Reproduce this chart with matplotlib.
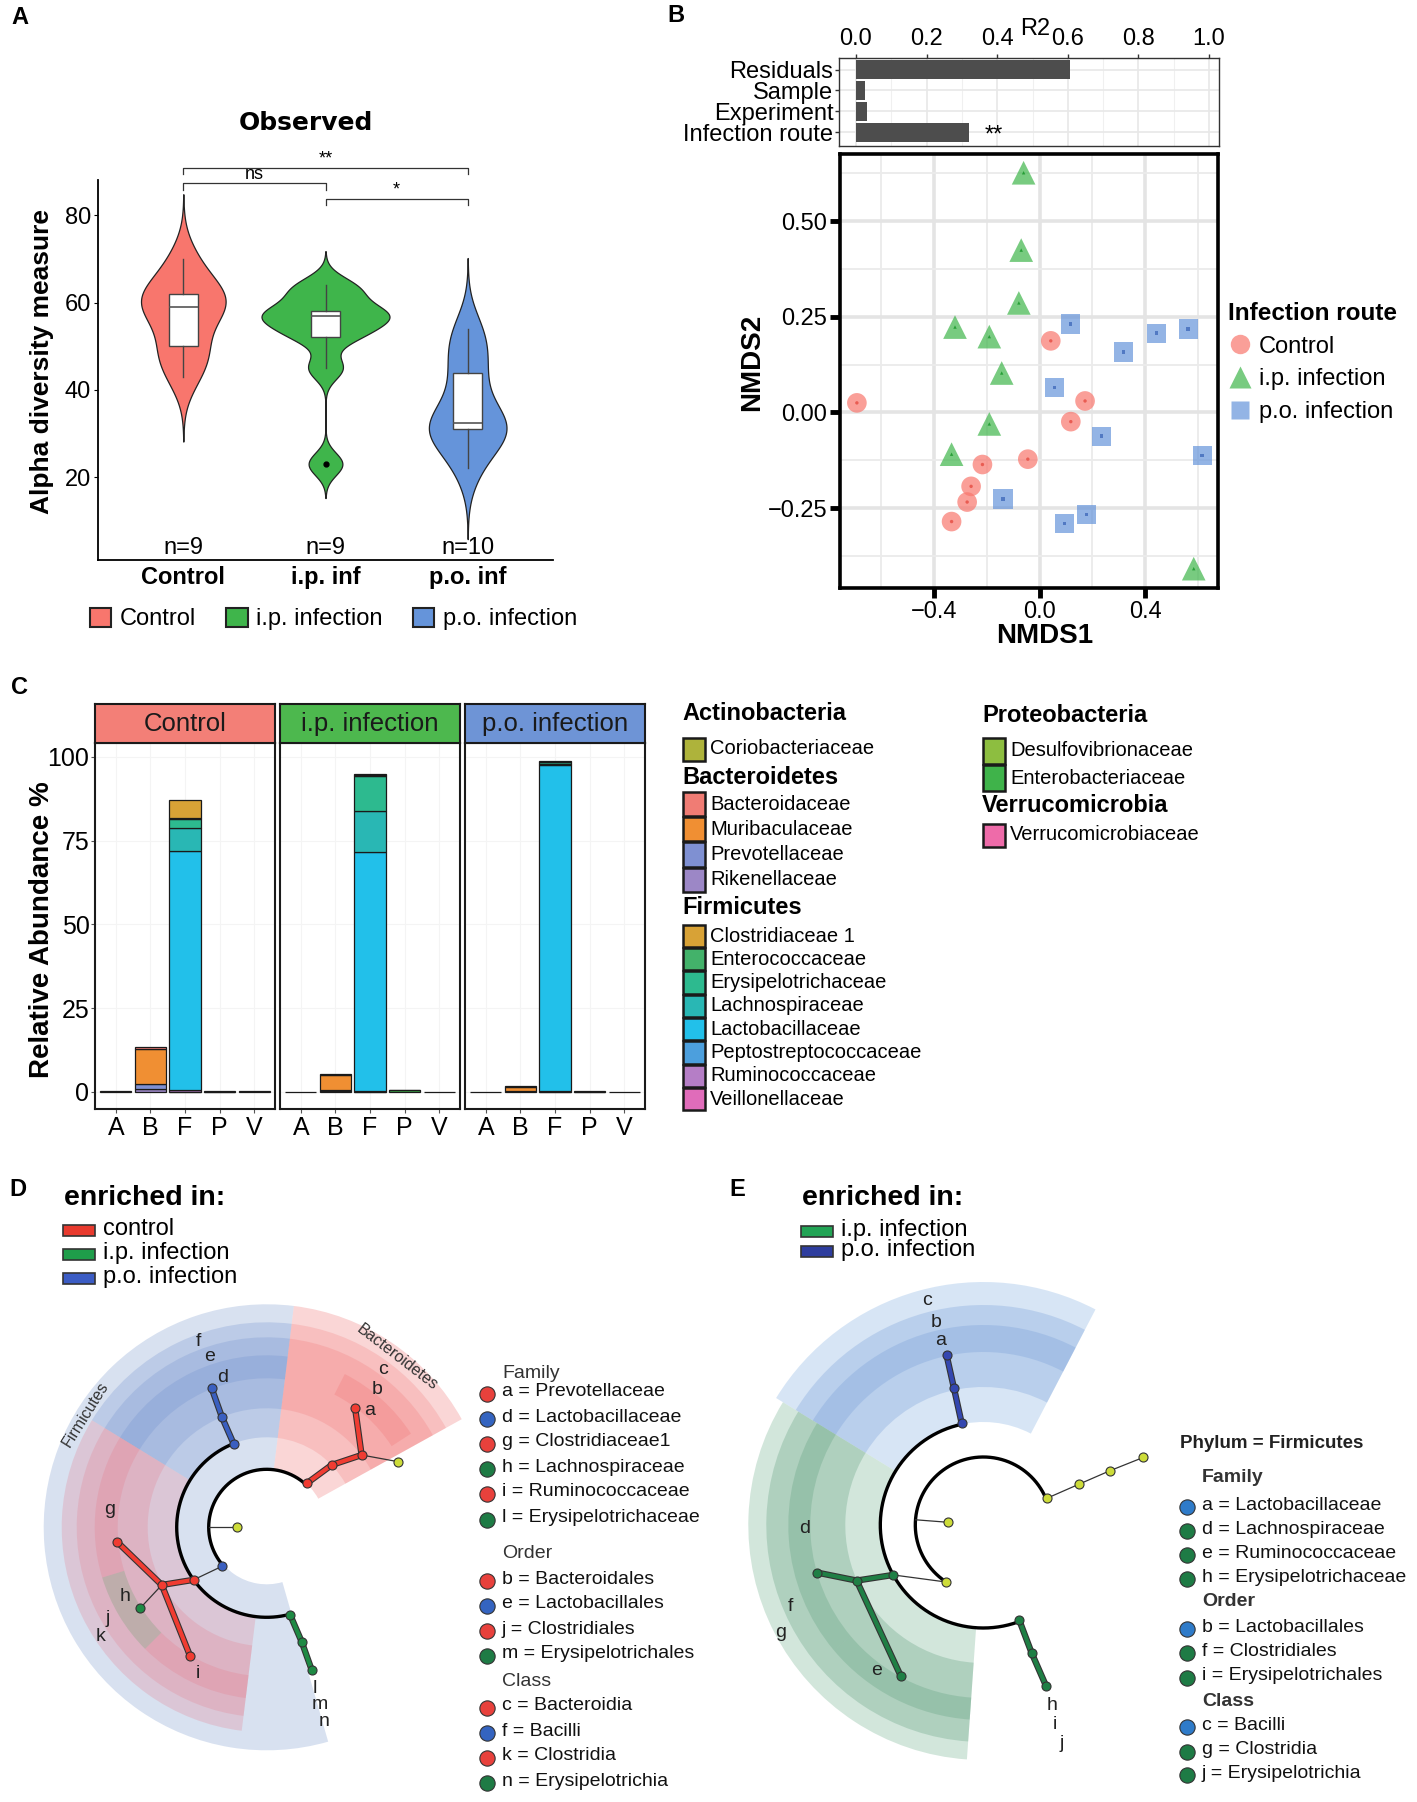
import numpy as np
import matplotlib
matplotlib.use('Agg')
import matplotlib.pyplot as plt
from matplotlib.patches import Rectangle, Wedge, Patch
from matplotlib.lines import Line2D

plt.rcParams['font.family'] = ['Liberation Sans', 'DejaVu Sans']

W, H = 1417, 1802

# ---------------- A: observed richness ----------------
groups = ['Control', 'i.p. infection', 'p.o. infection']
group_short = ['Control', 'i.p. inf', 'p.o. inf']
group_colors = ['#F8766D', '#3FB54B', '#6594DA']
obs_control = [43, 48, 50, 57, 59, 60, 62, 64, 70]
obs_ip = [23, 45, 52, 54, 57, 57, 58, 62, 64]
obs_po = [22, 28, 31, 31, 32, 33, 40, 45, 50, 54]
sig_pairs = [(1, 2), (1, 3), (2, 3)]
sig_labels = ['ns', '**', '*']
sig_heights = [87.3, 90.8, 83.7]

# ---------------- B: PERMANOVA + NMDS ----------------
r2_terms = ['Residuals', 'Sample', 'Experiment', 'Infection route']
r2_values = [0.607, 0.025, 0.03, 0.319]
r2_stars = ['', '', '', '**']
ctrl_x = [-0.693, 0.042, 0.172, 0.118, -0.045, -0.217, -0.260, -0.275, -0.334]
ctrl_y = [0.025, 0.187, 0.030, -0.024, -0.122, -0.136, -0.193, -0.234, -0.285]
ip_x = [-0.061, -0.070, -0.079, -0.321, -0.191, -0.144, -0.191, -0.334, 0.584]
ip_y = [0.626, 0.424, 0.286, 0.223, 0.198, 0.103, -0.030, -0.109, -0.408]
po_x = [0.117, 0.318, 0.442, 0.563, 0.057, 0.234, 0.616, -0.139, 0.094, 0.178]
po_y = [0.231, 0.158, 0.207, 0.218, 0.065, -0.062, -0.112, -0.226, -0.290, -0.267]

# ---------------- C: relative abundance ----------------
phyla = ['A', 'B', 'F', 'P', 'V']
phylum_names = ['Actinobacteria', 'Bacteroidetes', 'Firmicutes', 'Proteobacteria', 'Verrucomicrobia']
families = ['Coriobacteriaceae',
            'Bacteroidaceae', 'Muribaculaceae', 'Prevotellaceae', 'Rikenellaceae',
            'Clostridiaceae 1', 'Enterococcaceae', 'Erysipelotrichaceae', 'Lachnospiraceae',
            'Lactobacillaceae', 'Peptostreptococcaceae', 'Ruminococcaceae', 'Veillonellaceae',
            'Desulfovibrionaceae', 'Enterobacteriaceae',
            'Verrucomicrobiaceae']
family_phylum = ['A', 'B', 'B', 'B', 'B', 'F', 'F', 'F', 'F', 'F', 'F', 'F', 'F', 'P', 'P', 'V']
family_colors = ['#AEB33B',
                 '#F07C74', '#F08F33', '#7F90D2', '#9C87C6',
                 '#D8A236', '#43B26A', '#2DBA8F', '#29B7B4',
                 '#22C0EA', '#4C9FDD', '#B57EC6', '#E06CBA',
                 '#8DBE40', '#3FB34A',
                 '#EE6BA9']
abund_control = [0.15, 0.4, 10.5, 1.6, 0.8, 5.3, 0.3, 2.6, 7.0, 71.2, 0.1, 0.4, 0.1, 0.2, 0.1, 0.15]
abund_ip = [0.1, 0.3, 4.3, 0.3, 0.4, 0.4, 0.3, 10.3, 12.4, 71.3, 0.05, 0.15, 0.05, 0.1, 0.6, 0.1]
abund_po = [0.1, 0.2, 1.3, 0.1, 0.2, 0.2, 0.1, 0.5, 0.3, 97.4, 0.1, 0.1, 0.05, 0.05, 0.1, 0.1]
strip_colors = ['#F37F77', '#4DB84E', '#6E94D6']

# ---------------- D / E: LEfSe cladograms (radius px, angle deg) ----------------
d_sectors = [  # colour, alpha, r_in, r_out, a0, a1
    ('#7F9CCF', 0.30, 57, 223, 83, 286),
    ('#F08080', 0.32, 59, 223, 29, 83),
    ('#F06464', 0.20, 90, 205, 29, 83),
    ('#F06464', 0.20, 119, 190, 29, 83),
    ('#F06464', 0.22, 149, 172, 33, 63),
    ('#5B7FC7', 0.22, 90, 205, 83, 148.5),
    ('#5B7FC7', 0.20, 119, 190, 83, 148.5),
    ('#5B7FC7', 0.20, 149, 172, 83, 148.5),
    ('#E86A7A', 0.22, 90, 205, 148.5, 263),
    ('#E86A7A', 0.20, 119, 190, 148.5, 263),
    ('#E86A7A', 0.20, 149, 172, 148.5, 197),
    ('#6E9E6E', 0.28, 149, 172, 197, 225),
    ('#E86A7A', 0.20, 149, 172, 225, 263),
]
d_arcs = [(58, 47.7, 221), (90, 111.6, 285.5)]
d_thin = [(58, 180, 30, 180), (59.7, 221, 90, 215.7), (119.3, 37.3, 147, 26.5), (119.7, 208.8, 150.3, 212.6)]
d_branches = [
    ('#3A5FC0', 90, 111.6, 119.3, 112.1), ('#3A5FC0', 119.3, 112.1, 149.3, 111.6),
    ('#F03C32', 59.3, 47.7, 90, 43.8), ('#F03C32', 90, 43.8, 119.3, 37.3), ('#F03C32', 119.3, 37.3, 148.3, 53.4),
    ('#F03C32', 90, 215.7, 119.7, 208.8), ('#F03C32', 119.7, 208.8, 150, 185.7), ('#F03C32', 119.7, 208.8, 149.7, 239.2),
    ('#1E8A44', 90.7, 285, 119.7, 287), ('#1E8A44', 119.7, 287, 149.7, 287.5),
]
d_nodes = [
    ('#CDDC39', 30, 180), ('#CDDC39', 147, 26.5),
    ('#3A5FC0', 59.7, 221), ('#3A5FC0', 90, 111.6), ('#3A5FC0', 119.3, 112.1), ('#3A5FC0', 149.3, 111.6),
    ('#F03C32', 59.3, 47.7), ('#F03C32', 90, 43.8), ('#F03C32', 119.3, 37.3), ('#F03C32', 148.3, 53.4),
    ('#F03C32', 90, 215.7), ('#F03C32', 119.7, 208.8), ('#F03C32', 150, 185.7), ('#F03C32', 149.7, 239.2),
    ('#1E8A44', 150.3, 212.6), ('#1E8A44', 90.7, 285), ('#1E8A44', 119.7, 287), ('#1E8A44', 149.7, 287.5),
]
d_letters = [('f', 198, 110.2), ('e', 180, 108.4), ('d', 156.3, 106.3), ('c', 196.3, 53.6), ('b', 176.3, 51.4),
             ('a', 155.7, 48.5), ('g', 158.3, 173.7), ('h', 157.7, 206), ('j', 183.3, 209.7), ('k', 199.3, 213.3),
             ('i', 161.3, 244.7), ('l', 168, 286.5), ('m', 185.3, 286.7), ('n', 202.7, 286.5)]
d_clade_names = [('Firmicutes', 214, 148), ('Bacteroidetes', 214, 52.4)]

e_sectors = [
    ('#9CC0E8', 0.40, 103, 243, 62.5, 148.5),
    ('#6E98D6', 0.28, 138, 220, 62.5, 148.5),
    ('#6E98D6', 0.28, 173, 200, 62.5, 148.5),
    ('#9CC8B0', 0.45, 103, 235, 148.5, 266),
    ('#5E9F7E', 0.30, 138, 217, 148.5, 266),
    ('#5E9F7E', 0.30, 173, 195, 148.5, 220),
    ('#5E9F7E', 0.30, 173, 195, 220, 266),
]
e_arcs = [(68, 22.8, 237), (103, 102, 290.7)]
e_thin = [(68, 175.6, 35, 175.6), (68, 237, 103, 209), (68.7, 22.8, 104.3, 23.1),
          (104.3, 23.1, 137.7, 23.2), (137.7, 23.2, 173.7, 22.9)]
e_branches = [
    ('#3447B0', 104, 102, 139.7, 102.1), ('#3447B0', 139.7, 102.1, 174, 102.2),
    ('#1F7F45', 103, 209, 138.3, 203.7), ('#1F7F45', 138.3, 203.7, 172.7, 196), ('#1F7F45', 138.3, 203.7, 172, 241.3),
    ('#1F7F45', 101.7, 290.7, 136.7, 290.7), ('#1F7F45', 136.7, 290.7, 172.7, 291.3),
]
e_nodes = [
    ('#CDDC39', 35, 175.6), ('#CDDC39', 68, 237), ('#CDDC39', 68.7, 22.8), ('#CDDC39', 104.3, 23.1),
    ('#CDDC39', 137.7, 23.2), ('#CDDC39', 173.7, 22.9),
    ('#3447B0', 104, 102), ('#3447B0', 139.7, 102.1), ('#3447B0', 174, 102.2),
    ('#1F7F45', 103, 209), ('#1F7F45', 138.3, 203.7), ('#1F7F45', 172.7, 196), ('#1F7F45', 172, 241.3),
    ('#1F7F45', 101.7, 290.7), ('#1F7F45', 136.7, 290.7), ('#1F7F45', 172.7, 291.3),
]
e_letters = [('c', 231.3, 104.2), ('b', 207.7, 103.2), ('a', 189, 103), ('d', 178.3, 181), ('f', 209.3, 203),
             ('g', 230, 208), ('e', 180.7, 233.8), ('h', 192.7, 290.8), ('i', 212.3, 289.7), ('j', 232, 289.7)]

d_key = [('Family', None), ('a = Prevotellaceae', '#E8413C'), ('d = Lactobacillaceae', '#3464C0'),
         ('g = Clostridiaceae1', '#E8413C'), ('h = Lachnospiraceae', '#1E7B45'), ('i = Ruminococcaceae', '#E8413C'),
         ('l = Erysipelotrichaceae', '#1E7B45'), ('Order', None), ('b = Bacteroidales', '#E8413C'),
         ('e = Lactobacillales', '#3464C0'), ('j = Clostridiales', '#E8413C'), ('m = Erysipelotrichales', '#1E7B45'),
         ('Class', None), ('c = Bacteroidia', '#E8413C'), ('f = Bacilli', '#3464C0'), ('k = Clostridia', '#E8413C'),
         ('n = Erysipelotrichia', '#1E7B45')]
d_key_y = [1374, 1392, 1417, 1442, 1467, 1492, 1518, 1553, 1579, 1604, 1629, 1654, 1682, 1706, 1731, 1756, 1781]
e_key = [('Family', None), ('a = Lactobacillaceae', '#2F7BC9'), ('d = Lachnospiraceae', '#1E7B45'),
         ('e = Ruminococcaceae', '#1E7B45'), ('h = Erysipelotrichaceae', '#1E7B45'), ('Order', None),
         ('b = Lactobacillales', '#2F7BC9'), ('f = Clostridiales', '#1E7B45'), ('i = Erysipelotrichales', '#1E7B45'),
         ('Class', None), ('c = Bacilli', '#2F7BC9'), ('g = Clostridia', '#1E7B45'), ('j = Erysipelotrichia', '#1E7B45')]
e_key_y = [1478, 1505, 1529, 1553, 1577, 1601, 1627, 1651, 1676, 1701, 1725, 1750, 1773]


def box(x0, y0, x1, y1):
    return [x0 / W, 1 - y1 / H, (x1 - x0) / W, (y1 - y0) / H]


def nrd0(x):
    x = np.asarray(x, float)
    q75, q25 = np.percentile(x, [75, 25])
    return 0.9 * min(x.std(ddof=1), (q75 - q25) / 1.34) * len(x) ** -0.2


def gauss_kde(x, bw, grid):
    x = np.asarray(x, float)
    z = (grid[:, None] - x[None, :]) / bw
    return np.exp(-0.5 * z ** 2).sum(1) / (len(x) * bw * np.sqrt(2 * np.pi))


def pol(r, a):
    t = np.deg2rad(a)
    return r * np.cos(t), r * np.sin(t)


fig = plt.figure(figsize=(W / 100, H / 100), dpi=100)
ov = fig.add_axes([0, 0, 1, 1], zorder=10)
ov.set_xlim(0, W)
ov.set_ylim(H, 0)
ov.axis('off')
ov.patch.set_alpha(0)

for lab, x, y in [('A', 11, 17), ('B', 667, 15), ('C', 11, 687), ('D', 9, 1190), ('E', 729, 1190)]:
    ov.text(x, y, lab, fontsize=17, fontweight='bold', ha='left', va='center')

# ================= A =================
ax_a = fig.add_axes(box(98, 180, 553, 560))
obs = [obs_control, obs_ip, obs_po]
bws = [nrd0(v) for v in obs]
grids = [np.linspace(min(v) - 3 * b, max(v) + 3 * b, 512) for v, b in zip(obs, bws)]
dens = [gauss_kde(v, b, g) for v, b, g in zip(obs, bws, grids)]
dmax = max(d.max() for d in dens)
for i, (g, d) in enumerate(zip(grids, dens)):
    hw = 0.45 * d / dmax
    ax_a.fill_betweenx(g, i + 1 - hw, i + 1 + hw, facecolor=group_colors[i], edgecolor='#222222', lw=0.9, zorder=1)
ax_a.boxplot(obs, positions=[1, 2, 3], widths=0.2, patch_artist=True, showcaps=False,
             boxprops=dict(facecolor='white', edgecolor='#444444', lw=1.0),
             medianprops=dict(color='#555555', lw=1.2),
             whiskerprops=dict(color='#444444', lw=1.0),
             flierprops=dict(marker='o', markersize=3.5, markerfacecolor='black', markeredgecolor='black'),
             zorder=3)
ax_a.set_xlim(0.4, 3.6)
ax_a.set_ylim(1, 88.1)
ax_a.spines['top'].set_visible(False)
ax_a.spines['right'].set_visible(False)
for s in ['left', 'bottom']:
    ax_a.spines[s].set_linewidth(1.3)
ax_a.set_yticks([20, 40, 60, 80])
ax_a.set_xticks([1, 2, 3], labels=group_short)
ax_a.tick_params(axis='y', labelsize=17, length=3, pad=2)
ax_a.tick_params(axis='x', labelsize=17, length=0, pad=4)
for t in ax_a.get_xticklabels():
    t.set_fontweight('bold')
for (i, j), lab, y in zip(sig_pairs, sig_labels, sig_heights):
    ax_a.plot([i, i, j, j], [y - 1.4, y, y, y - 1.4], color='#333333', lw=0.9, clip_on=False)
    ax_a.text((i + j) / 2, y + 0.2, lab, ha='center', va='bottom', fontsize=13)
for i, v in enumerate(obs):
    ax_a.text(i + 1, 1.2, 'n=%d' % len(v), ha='center', va='bottom', fontsize=17)
ov.text(306, 123, 'Observed', fontsize=18, fontweight='bold', family='DejaVu Sans', ha='center', va='center')
ov.text(42, 362, 'Alpha diversity measure', fontsize=19, fontweight='bold', rotation=90, ha='center', va='center')
fig.legend(handles=[Patch(facecolor=c, edgecolor='#222222', lw=1.5) for c in group_colors], labels=groups,
           loc='center left', bbox_to_anchor=(90 / W, 1 - 619 / H), ncol=3, frameon=False, fontsize=17,
           handlelength=0.9, handleheight=0.9, handletextpad=0.35, columnspacing=1.3,
           borderaxespad=0, borderpad=0)

# ================= B =================
ax_r2 = fig.add_axes(box(839, 58, 1219, 146))
ypos = np.arange(len(r2_terms))
ax_r2.barh(ypos, r2_values, height=0.9, color='#4D4D4D', zorder=2)
for y, v, s in zip(ypos, r2_values, r2_stars):
    if s:
        ax_r2.text(v + 0.07, y + 0.15, s, ha='center', va='center', fontsize=17)
ax_r2.set_ylim(3.65, -0.55)
ax_r2.set_xlim(-0.048, 1.028)
ax_r2.set_xticks(np.arange(0, 1.01, 0.2))
ax_r2.set_xticks(np.arange(0.1, 1.0, 0.2), minor=True)
ax_r2.set_xticklabels(['0.0', '0.2', '0.4', '0.6', '0.8', '1.0'])
ax_r2.set_yticks(ypos, labels=r2_terms)
ax_r2.xaxis.tick_top()
ax_r2.tick_params(axis='both', which='major', labelsize=17, length=3, width=1, color='#333333', pad=1)
ax_r2.tick_params(axis='x', which='major', pad=3)
ax_r2.tick_params(axis='x', which='minor', length=0)
ax_r2.grid(which='major', color='#E8E8E8', lw=1.2, zorder=0)
ax_r2.grid(which='minor', axis='x', color='#F0F0F0', lw=0.8, zorder=0)
ax_r2.set_axisbelow(True)
for s in ax_r2.spines.values():
    s.set_color('#333333')
    s.set_linewidth(1.0)
ax_r2.annotate('R2', xy=(0.507, 1), xycoords=('data', 'axes fraction'), xytext=(0, 29),
               textcoords='offset pixels', ha='center', va='center', fontsize=17)

ax_b = fig.add_axes(box(840, 154, 1218, 588))
ax_b.set_xlim(-0.757, 0.676)
ax_b.set_ylim(-0.4585, 0.675)
ax_b.set_xticks([-0.4, 0.0, 0.4], labels=['\u22120.4', '0.0', '0.4'])
ax_b.set_yticks([-0.25, 0.0, 0.25, 0.5], labels=['\u22120.25', '0.00', '0.25', '0.50'])
ax_b.set_xticks([-0.6, -0.2, 0.2, 0.6], minor=True)
ax_b.set_yticks([-0.375, -0.125, 0.125, 0.375, 0.625], minor=True)
ax_b.grid(which='major', color='#E4E4E4', lw=2.6, zorder=0)
ax_b.grid(which='minor', color='#EBEBEB', lw=1.3, zorder=0)
ax_b.set_axisbelow(True)
ax_b.tick_params(which='major', length=7, width=3.5, color='black', labelsize=17, pad=2)
ax_b.tick_params(which='minor', length=0)
for s in ax_b.spines.values():
    s.set_linewidth(2.6)
    s.set_color('black')
pts = [(ctrl_x, ctrl_y, 'o', 200, '#E8554B'), (ip_x, ip_y, '^', 290, '#1F9A2F'), (po_x, po_y, 's', 190, '#4A73C0')]
for (px, py, m, sz, dark), c in zip(pts, group_colors):
    ax_b.scatter(px, py, marker=m, s=sz, color=c, alpha=0.7, edgecolors='none', zorder=3)
    ax_b.scatter(px, py, marker=m, s=6, color=dark, alpha=0.9, edgecolors='none', zorder=4)
ov.text(1045, 636, 'NMDS1', fontsize=20, fontweight='bold', ha='center', va='center')
ov.text(752, 362, 'NMDS2', fontsize=20, fontweight='bold', rotation=90, ha='center', va='center')
leg_b = ax_b.legend([Line2D([], [], marker=m, ls='none', ms=ms, mfc=c, mec='none', alpha=0.7)
                     for (m, ms), c in zip([('o', 14), ('^', 16), ('s', 13)], group_colors)], groups,
                    title='Infection route', loc='upper left', bbox_to_anchor=(1228 / W, 1 - 302 / H),
                    bbox_transform=fig.transFigure, frameon=False, fontsize=17, title_fontsize=17.5,
                    alignment='left', handletextpad=0.3, labelspacing=0.45, borderpad=0, borderaxespad=0,
                    handlelength=1.0)
leg_b.get_title().set_fontweight('bold')

# ================= C =================
abund = [abund_control, abund_ip, abund_po]
facet_x = [95, 280, 465]
for gi in range(3):
    x0 = facet_x[gi]
    ax = fig.add_axes(box(x0, 742.5, x0 + 180, 1109.4))
    bottoms = np.zeros(len(phyla))
    for fi in range(len(families) - 1, -1, -1):
        k = phyla.index(family_phylum[fi])
        ax.bar(k + 1, abund[gi][fi], bottom=bottoms[k], width=0.9, color=family_colors[fi],
               edgecolor='#1A1A1A', lw=0.9, zorder=2)
        bottoms[k] += abund[gi][fi]
    ax.set_xlim(0.4, 5.6)
    ax.set_ylim(-5.2, 104.3)
    ax.set_xticks(range(1, 6), labels=phyla)
    ax.set_yticks([0, 25, 50, 75, 100])
    ax.grid(color='#F4F4F4', lw=0.8, zorder=0)
    ax.tick_params(axis='x', labelsize=18, length=3, color='#555555', pad=2)
    ax.tick_params(axis='y', labelsize=18, length=3, color='#555555', pad=1)
    if gi > 0:
        ax.tick_params(axis='y', labelleft=False, length=0)
    for s in ax.spines.values():
        s.set_linewidth(1.5)
        s.set_color('#1A1A1A')
    st = fig.add_axes(box(x0, 703.6, x0 + 180, 742.5))
    st.set_facecolor(strip_colors[gi])
    st.set_xticks([])
    st.set_yticks([])
    for s in st.spines.values():
        s.set_linewidth(1.5)
        s.set_color('#1A1A1A')
    st.text(0.5, 0.48, groups[gi], transform=st.transAxes, ha='center', va='center', fontsize=18.5, color='#1A1A1A')
ov.text(42, 930, 'Relative Abundance %', fontsize=20, fontweight='bold', rotation=90, ha='center', va='center')

legend_layout = {'Actinobacteria': (682, 713, 749, 24), 'Bacteroidetes': (682, 778, 804, 25.3),
                 'Firmicutes': (682, 907, 936, 23.3), 'Proteobacteria': (982, 715, 751, 27),
                 'Verrucomicrobia': (982, 806, 835, 24)}
for pi, pname in enumerate(phylum_names):
    x, yh, y0, step = legend_layout[pname]
    ov.text(x, yh, pname, fontsize=17, fontweight='bold', ha='left', va='center')
    members = [fi for fi in range(len(families)) if family_phylum[fi] == phyla[pi]]
    for j, fi in enumerate(members):
        yc = y0 + j * step
        hh = max(step, 23) - 1
        ov.add_patch(Rectangle((x + 1, yc - hh / 2), 22, hh, facecolor=family_colors[fi],
                               edgecolor='#1A1A1A', lw=1.8))
        ov.text(x + 28, yc, families[fi], fontsize=14.5, ha='left', va='center')

# ================= D / E =================
def cladogram(cx, cy, sectors, arcs, thin, branches, nodes, letters):
    ax = fig.add_axes(box(cx - 250, cy - 250, cx + 250, cy + 250))
    ax.set_xlim(-250, 250)
    ax.set_ylim(-250, 250)
    ax.axis('off')
    for c, al, r0, r1, a0, a1 in sectors:
        ax.add_patch(Wedge((0, 0), r1, a0, a1, width=r1 - r0, facecolor=c, alpha=al, edgecolor='none', zorder=1))
    for r, a0, a1 in arcs:
        t = np.linspace(a0, a1, 200)
        x, y = pol(r, t)
        ax.plot(x, y, color='black', lw=2.4, zorder=3, solid_capstyle='round')
    for r0, a0, r1, a1 in thin:
        x0, y0 = pol(r0, a0)
        x1, y1 = pol(r1, a1)
        ax.plot([x0, x1], [y0, y1], color='#333333', lw=0.9, zorder=3)
    for c, r0, a0, r1, a1 in branches:
        x0, y0 = pol(r0, a0)
        x1, y1 = pol(r1, a1)
        ax.plot([x0, x1], [y0, y1], color='#333333', lw=4.6, zorder=4, solid_capstyle='round')
        ax.plot([x0, x1], [y0, y1], color=c, lw=3.0, zorder=5, solid_capstyle='round')
    for c, r, a in nodes:
        x, y = pol(r, a)
        ax.plot(x, y, 'o', ms=6.5, mfc=c, mec='#333333', mew=0.8, zorder=6)
    for lab, r, a in letters:
        x, y = pol(r, a)
        ax.text(x, y, lab, fontsize=14, color='#222222', ha='center', va='center', zorder=7)
    return ax


ax_d = cladogram(266.7, 1527.3, d_sectors, d_arcs, d_thin, d_branches, d_nodes, d_letters)
for name, r, a in d_clade_names:
    x, y = pol(r, a)
    ax_d.text(x, y, name, fontsize=11.5, color='#333333', rotation=a - 90, ha='center', va='center',
              rotation_mode='anchor', zorder=7)
ax_e = cladogram(983.3, 1525, e_sectors, e_arcs, e_thin, e_branches, e_nodes, e_letters)

# enriched-in legends
for x, entries, ys in [(63, [('control', '#E83A2E'), ('i.p. infection', '#1F9E4A'), ('p.o. infection', '#3B5CC4')],
                        [1230, 1254.5, 1278.5]),
                       (801, [('i.p. infection', '#22A455'), ('p.o. infection', '#2E3D9E')], [1231, 1251])]:
    ov.text(x + 1, 1198, 'enriched in:', fontsize=20.5, fontweight='bold', ha='left', va='center')
    for (lab, c), y in zip(entries, ys):
        ov.add_patch(Rectangle((x, y - 5.5), 32, 11, facecolor=c, edgecolor='#333333', lw=1.2))
        ov.text(x + 40, y - 1, lab, fontsize=17, ha='left', va='center')

# right-hand keys
for (kx, key, ys, wt) in [(487, d_key, d_key_y, 'normal'), (1187, e_key, e_key_y, 'bold')]:
    for (lab, c), y in zip(key, ys):
        if c is None:
            ov.text(kx + 15, y, lab, fontsize=14, fontweight=wt, color='#333333', ha='left', va='center')
        else:
            ov.plot(kx, y + 2, 'o', ms=11, mfc=c, mec='#333333', mew=0.8)
            ov.text(kx + 15, y, lab, fontsize=14, color='#111111', ha='left', va='center')
ov.text(1180, 1443, 'Phylum = Firmicutes', fontsize=13.5, fontweight='bold', color='#222222', ha='left', va='center')

fig.savefig('out.png', dpi=100)
